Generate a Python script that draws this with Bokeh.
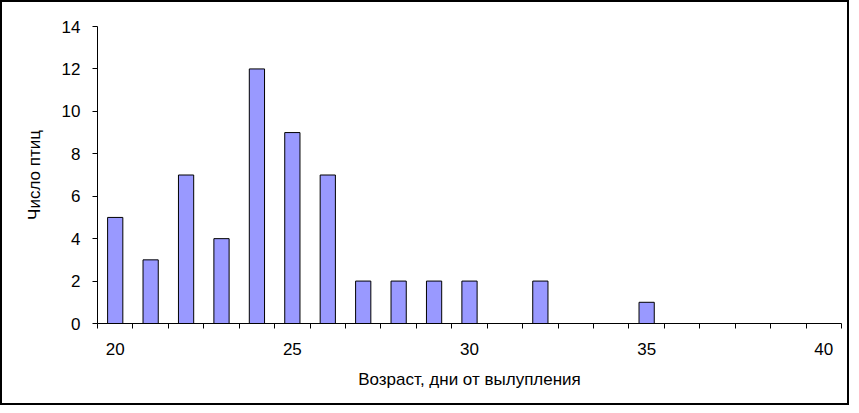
from bokeh.plotting import figure
from bokeh.models import FixedTicker, Range1d, ColumnDataSource
from bokeh.embed import file_html
from bokeh.resources import INLINE

ages = [20, 21, 22, 23, 24, 25, 26, 27, 28, 29, 30, 32, 35]
counts = [5, 3, 7, 4, 12, 9, 7, 2, 2, 2, 2, 2, 1]
x_labels = [20, 25, 30, 35, 40]
y_ticks = [0, 2, 4, 6, 8, 10, 12, 14]
x_title = "Возраст, дни от вылупления"
y_title = "Число птиц"

src = ColumnDataSource(data=dict(x=ages, top=counts))

p = figure(width=849, height=405, output_backend="svg", toolbar_location=None,
           x_range=Range1d(19.5, 40.5), y_range=Range1d(0, 14),
           min_border_left=95, min_border_right=10, min_border_top=24, min_border_bottom=84)
p.styles = {"border": "2px solid black", "box-sizing": "border-box"}
p.outline_line_color = None
p.xgrid.grid_line_color = None
p.ygrid.grid_line_color = None
p.background_fill_color = "white"
p.border_fill_color = "white"

p.vbar(x="x", top="top", bottom=0, width=0.43, source=src,
       fill_color="#9999FF", line_color="black", line_width=1)

minor = [v + 0.5 for v in range(19, 41)]
p.xaxis.ticker = FixedTicker(ticks=x_labels, minor_ticks=minor)
p.xaxis.major_tick_out = 0
p.xaxis.major_tick_in = 0
p.xaxis.minor_tick_out = 5
p.xaxis.minor_tick_in = 0
p.xaxis.major_label_standoff = 14
p.xaxis.axis_label = x_title
p.xaxis.axis_label_standoff = 12

p.yaxis.ticker = FixedTicker(ticks=y_ticks)
p.yaxis.major_tick_out = 5
p.yaxis.major_tick_in = 0
p.yaxis.minor_tick_out = 0
p.yaxis.minor_tick_in = 0
p.yaxis.major_label_standoff = 12
p.yaxis.axis_label = y_title
p.yaxis.axis_label_standoff = 15

for ax in (p.xaxis, p.yaxis):
    ax.axis_line_color = "black"
    ax.major_tick_line_color = "black"
    ax.minor_tick_line_color = "black"
    ax.major_label_text_font = "Liberation Sans"
    ax.major_label_text_font_size = "17px"
    ax.major_label_text_color = "black"
    ax.axis_label_text_font = "Liberation Sans"
    ax.axis_label_text_font_size = "17px"
    ax.axis_label_text_font_style = "normal"
    ax.axis_label_text_color = "black"

open("out.html", "w").write(file_html(p, INLINE))
